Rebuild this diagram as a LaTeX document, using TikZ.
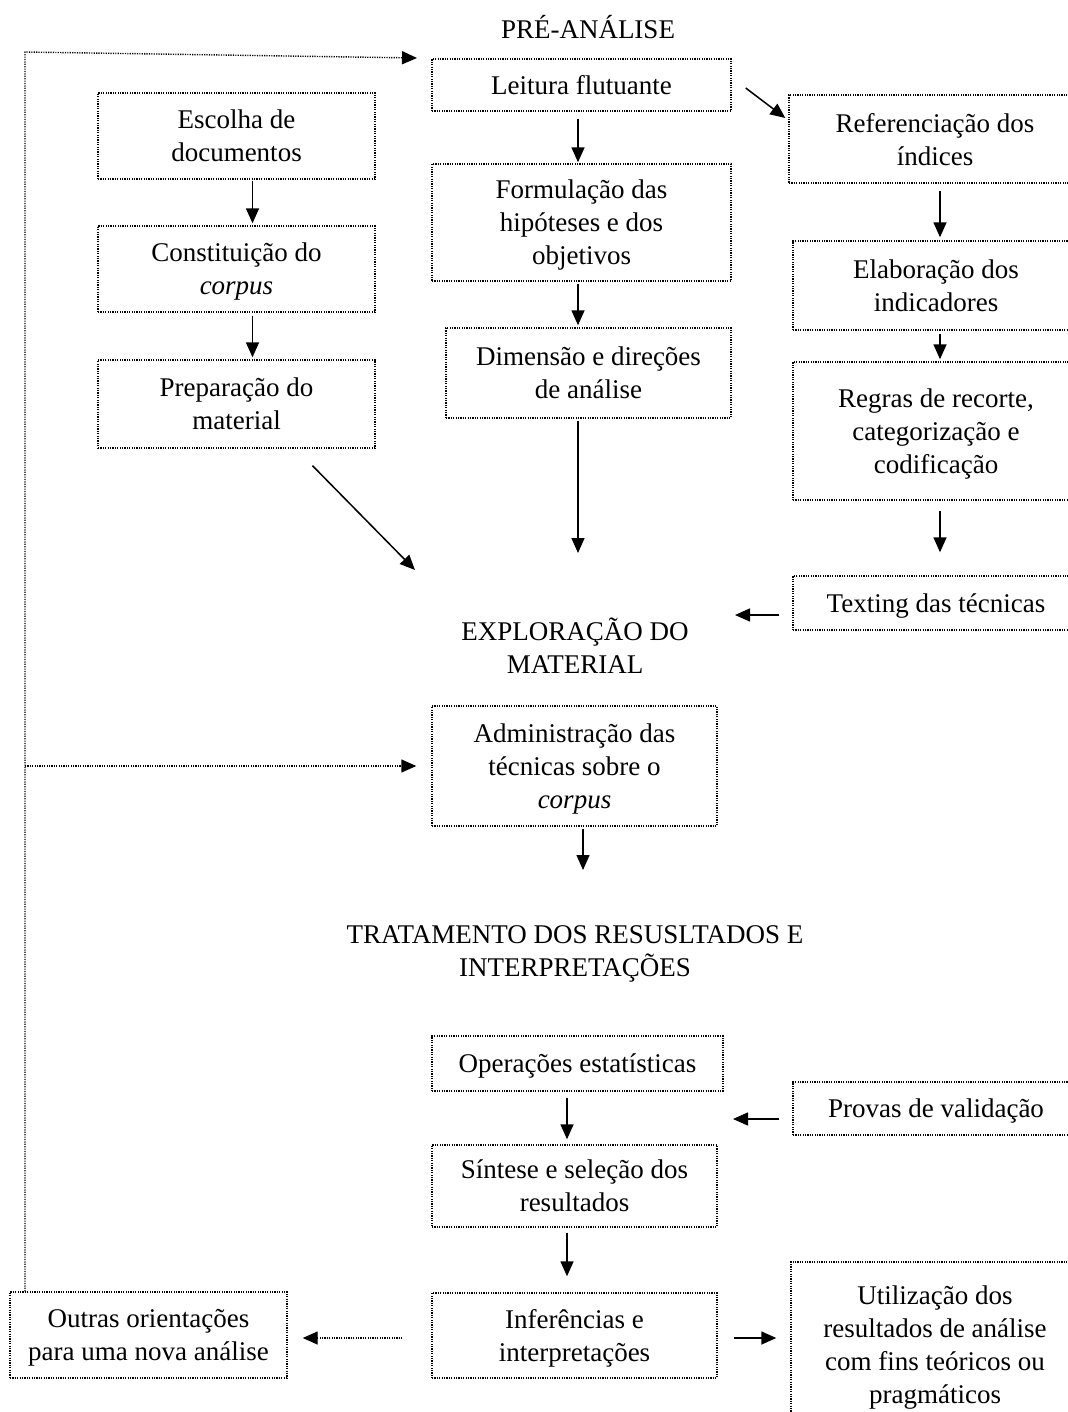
\documentclass[tikz,border=0pt]{standalone}
\usepackage{fontspec}
\setmainfont{Liberation Serif}
\usetikzlibrary{arrows.meta,calc}

\tikzset{
  box/.style={draw=drawColor, line width=0.7pt, dash pattern=on 0.6pt off 0.6pt, align=center, inner sep=0pt, text depth=0pt, font=\fontsize{13.5pt}{16.5pt}\selectfont},
  ttl/.style={align=center, inner sep=0pt, font=\fontsize{13.5pt}{16.5pt}\selectfont},
  arr/.style={draw=drawColor, line width=0.75pt, -{Triangle[length=7.5pt,width=6.5pt]}},
  dotarr/.style={draw=drawColor, line width=0.7pt, dash pattern=on 0.6pt off 0.6pt, -{Triangle[length=7.5pt,width=6.5pt]}}
}

\begin{document}
\begin{tikzpicture}[x=0.5pt,y=-0.5pt]
\definecolor{fillColor}{RGB}{255,255,255}
\definecolor{drawColor}{RGB}{0,0,0}
\path[use as bounding box,fill=fillColor] (0,0) rectangle (1068,1412);
\clip (0,0) rectangle (1068,1412);

\node[ttl] (pre) at (588,27) {PRÉ-ANÁLISE};

\node[ttl] (expl) at (575,646) {EXPLORAÇÃO DO\\MATERIAL};

\node[ttl] (trat) at (575,954) {TRATAMENTO DOS RESUSLTADOS E\\INTERPRETAÇÕES};

\node[box, minimum width=149.5pt, minimum height=26pt] (leit) at (581.5,85) {Leitura flutuante};

\node[box, minimum width=138.5pt, minimum height=43pt] (esc) at (236.5,136) {Escolha de\\documentos};

\node[box, minimum width=146pt, minimum height=44pt] (ref) at (935,139) {Referenciação dos\\índices};

\node[box, minimum width=149.5pt, minimum height=58.5pt] (form) at (581.5,222.5) {Formulação das\\hipóteses e dos\\objetivos};

\node[box, minimum width=138.5pt, minimum height=43pt] (const) at (236.5,269) {Constituição do\\\textit{corpus}};

\node[box, minimum width=138.5pt, minimum height=44pt] (prep) at (236.5,404) {Preparação do\\material};

\node[box, minimum width=142.5pt, minimum height=45pt] (dim) at (588.5,373) {Dimensão e direções\\de análise};

\node[box, minimum width=143pt, minimum height=44.5pt] (elab) at (936,285.5) {Elaboração dos\\indicadores};

\node[box, minimum width=143pt, minimum height=69pt] (regr) at (936,431) {Regras de recorte,\\categorização e\\codificação};

\node[box, minimum width=143pt, minimum height=27pt] (texting) at (936,603) {Texting das técnicas};

\node[box, minimum width=142.5pt, minimum height=60pt] (adm) at (574.5,766) {Administração das\\técnicas sobre o\\\textit{corpus}};

\node[box, minimum width=145.5pt, minimum height=27.5pt] (oper) at (577.5,1063.5) {Operações estatísticas};

\node[box, minimum width=143pt, minimum height=26.5pt] (prov) at (936,1108.5) {Provas de validação};

\node[box, minimum width=142.5pt, minimum height=41pt] (sint) at (574.5,1186) {Síntese e seleção dos\\resultados};

\node[box, minimum width=142.5pt, minimum height=42.5pt] (inf) at (574.5,1335.5) {Inferências e\\interpretações};

\node[box, minimum width=138.5pt, minimum height=43pt] (outr) at (148.5,1335) {Outras orientações\\para uma nova análise};

\node[box, minimum width=144pt, minimum height=83pt] (util) at (935,1345) {Utilização dos\\resultados de análise\\com fins teóricos ou\\pragmáticos};

\coordinate (loop) at (25,52);
\coordinate (leitin) at (417,58);
\coordinate (explin) at (578,553);
\coordinate (explnw) at (415,570);
\coordinate (explne) at (735,615);
\coordinate (tratin) at (583,870);
\coordinate (sintin) at (733,1119);

\draw[dotarr] (outr.north -| loop) -- (loop) -- (leitin);

\draw[dotarr, shorten >=7.5pt] (loop |- adm) -- (adm.west);

\draw[arr, shorten <=3.5pt, shorten >=0.5pt] ([xshift=-1.75pt]leit.south) -- ([xshift=-1.75pt]form.north);

\draw[arr] ($(leit.east)+(14,3)$) -- ($(ref.west)+(-3,-21)$);

\draw[arr, shorten <=0.5pt, shorten >=1pt] ([xshift=8pt]esc.south) -- ([xshift=8pt]const.north);

\draw[arr, shorten <=1.5pt, shorten >=1pt] ([xshift=8pt]const.south) -- ([xshift=8pt]prep.north);

\draw[arr, shorten <=1pt, shorten >=1pt] ([xshift=-1.75pt]form.south) -- ([xshift=-5.25pt]dim.north);

\draw[arr, shorten <=1pt] (dim.south -| explin) -- (explin);

\draw[arr] ($(prep.south)+(76,17)$) -- (explnw);

\draw[arr, shorten <=3.5pt, shorten >=1.5pt] ([xshift=2.5pt]ref.south) -- ([xshift=2pt]elab.north);

\draw[arr, shorten <=1.5pt, shorten >=1pt] ([xshift=2pt]elab.south) -- ([xshift=2pt]regr.north);

\draw[arr, shorten <=5pt, shorten >=11.5pt] ([xshift=2pt]regr.south) -- ([xshift=2pt]texting.north);

\draw[arr, shorten <=6.5pt] (texting.west |- explne) -- (explne);

\draw[arr, shorten <=1pt] (adm.south -| tratin) -- (tratin);

\draw[arr, shorten <=3pt, shorten >=2.5pt] ([xshift=-5.25pt]oper.south) -- ([xshift=-3.75pt]sint.north);

\draw[arr, shorten <=6.5pt] (prov.west |- sintin) -- (sintin);

\draw[arr, shorten <=2.5pt, shorten >=8pt] ([xshift=-3.75pt]sint.south) -- ([xshift=-3.75pt]inf.north);

\draw[dotarr, shorten <=14.5pt, shorten >=7.5pt] ([yshift=-1.25pt]inf.west) -- ([yshift=-1.5pt]outr.east);

\draw[arr, shorten <=8pt, shorten >=7pt] ([yshift=-1.25pt]inf.east) -- ($(inf.east -| util.west)+(0,2.5)$);
\end{tikzpicture}
\end{document}
